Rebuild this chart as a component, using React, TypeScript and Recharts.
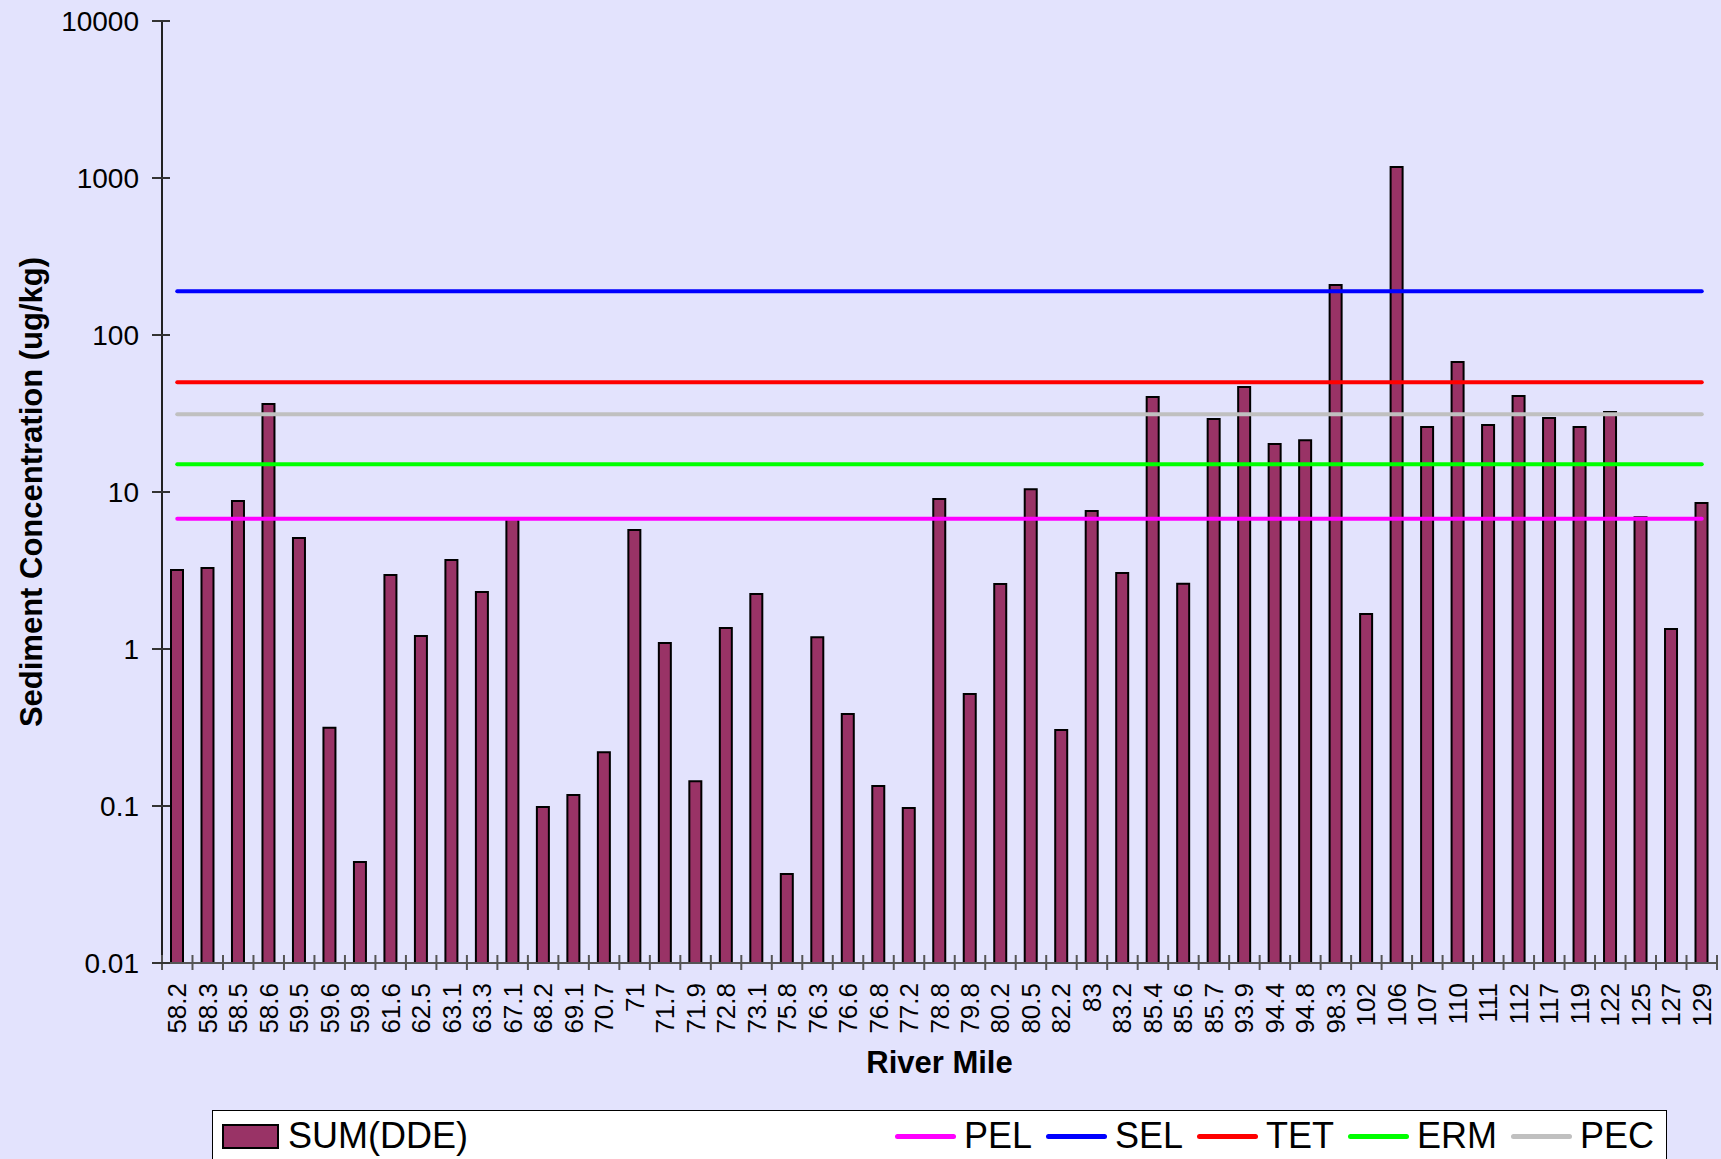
import { ComposedChart, Bar, Line, XAxis, YAxis, Legend, Label } from "recharts";

const RIVER_MILES = [
  "58.2", "58.3", "58.5", "58.6", "59.5", "59.6", "59.8", "61.6", "62.5", "63.1",
  "63.3", "67.1", "68.2", "69.1", "70.7", "71", "71.7", "71.9", "72.8", "73.1",
  "75.8", "76.3", "76.6", "76.8", "77.2", "78.8", "79.8", "80.2", "80.5", "82.2",
  "83", "83.2", "85.4", "85.6", "85.7", "93.9", "94.4", "94.8", "98.3", "102",
  "106", "107", "110", "111", "112", "117", "119", "122", "125", "127", "129",
];

const SUM_DDE = [
  3.18, 3.28, 8.77, 36.4, 5.1, 0.315, 0.044, 2.96, 1.21, 3.69,
  2.31, 6.73, 0.0986, 0.1175, 0.22, 5.73, 1.09, 0.144, 1.36, 2.24,
  0.0369, 1.19, 0.386, 0.134, 0.097, 9.02, 0.517, 2.59, 10.4, 0.305,
  7.57, 3.05, 40.3, 2.6, 29.2, 46.7, 20.2, 21.4, 208, 1.67,
  1175, 25.9, 67.3, 26.7, 40.9, 29.6, 25.9, 32.3, 6.9, 1.34, 8.5,
];

const GUIDE_NAMES = ["PEL", "SEL", "TET", "ERM", "PEC"];
const GUIDE_VALUES = [6.75, 190, 50, 15, 31.3];

const Y_TICKS = [0.01, 0.1, 1, 10, 100, 1000, 10000];

const GUIDE_COLORS: Record<string, string> = {
  PEL: "#FF00FF",
  SEL: "#0000FF",
  TET: "#FF0000",
  ERM: "#00FF00",
  PEC: "#C0C0C0",
};

const BAR_COLOR = "#993366";
const BG = "#E3E3FD";
const FONT = '"Liberation Sans", Arial, sans-serif';

const W = 1721;
const H = 1159;
const MARGIN = { top: 21, right: 4, left: 0, bottom: 0 };
const Y_AXIS_W = 162;
const X_AXIS_H = 196;
const STEP = (W - MARGIN.left - MARGIN.right - Y_AXIS_W) / RIVER_MILES.length;

const data = RIVER_MILES.map((mile, i) => {
  const row: Record<string, string | number> = { mile, dde: SUM_DDE[i] };
  GUIDE_NAMES.forEach((name, j) => {
    row[name] = GUIDE_VALUES[j];
  });
  return row;
});

function XTick(props: any) {
  const { x, y, payload, index } = props;
  const ty = y + 20;
  const last = index === RIVER_MILES.length - 1;
  return (
    <g>
      <line x1={x - STEP / 2} x2={x - STEP / 2} y1={y - 8} y2={y + 7} stroke="#555" strokeWidth={2} />
      {last && (
        <line x1={x + STEP / 2} x2={x + STEP / 2} y1={y - 8} y2={y + 7} stroke="#555" strokeWidth={2} />
      )}
      <text
        x={x}
        y={ty}
        transform={`rotate(-90 ${x} ${ty})`}
        textAnchor="end"
        dominantBaseline="central"
        fontSize={26}
        fontFamily={FONT}
        fill="#000"
      >
        {payload.value}
      </text>
    </g>
  );
}

function YTick(props: any) {
  const { x, y, payload } = props;
  return (
    <g>
      <line x1={x - 10} x2={x + 8} y1={y} y2={y} stroke="#333" strokeWidth={2} />
      <text
        x={x - 23}
        y={y}
        textAnchor="end"
        dominantBaseline="central"
        fontSize={28}
        fontFamily={FONT}
        fill="#000"
      >
        {payload.value}
      </text>
    </g>
  );
}

function YTitle(props: any) {
  const { x, y, height } = props.viewBox;
  const cx = x + 31;
  const cy = y + height / 2;
  return (
    <text
      x={cx}
      y={cy}
      transform={`rotate(-90 ${cx} ${cy})`}
      textAnchor="middle"
      dominantBaseline="central"
      fontSize={31}
      fontWeight="bold"
      fontFamily={FONT}
      fill="#000"
    >
      Sediment Concentration (ug/kg)
    </text>
  );
}

function XTitle(props: any) {
  const { x, y, width } = props.viewBox;
  return (
    <text
      x={x + width / 2}
      y={y + 99}
      textAnchor="middle"
      dominantBaseline="central"
      fontSize={31}
      fontWeight="bold"
      fontFamily={FONT}
      fill="#000"
    >
      River Mile
    </text>
  );
}

function LegendBox() {
  return (
    <div
      style={{
        boxSizing: "border-box",
        height: 70,
        background: "#fff",
        border: "1px solid #000",
        display: "flex",
        alignItems: "flex-start",
        justifyContent: "space-between",
        padding: "7px 12px 0 9px",
        fontFamily: FONT,
        fontSize: 36,
        lineHeight: "36px",
        color: "#000",
      }}
    >
      <div style={{ display: "flex", alignItems: "center" }}>
        <span
          style={{
            boxSizing: "border-box",
            width: 57,
            height: 25,
            background: BAR_COLOR,
            border: "2px solid #000",
            marginRight: 9,
          }}
        />
        <span>SUM(DDE)</span>
      </div>
      <div style={{ display: "flex", alignItems: "center" }}>
        {GUIDE_NAMES.map((name, i) => (
          <div key={name} style={{ display: "flex", alignItems: "center", marginLeft: i === 0 ? 0 : 14 }}>
            <span
              style={{
                width: 61,
                height: 5,
                borderRadius: 3,
                background: GUIDE_COLORS[name],
                marginRight: 8,
              }}
            />
            <span>{name}</span>
          </div>
        ))}
      </div>
    </div>
  );
}

export default function App() {
  return (
    <div
      style={{
        position: "absolute",
        left: 0,
        top: 0,
        width: W,
        height: H,
        overflow: "hidden",
        background: BG,
      }}
    >
      <ComposedChart width={W} height={H} data={data} margin={MARGIN}>
        <XAxis
          dataKey="mile"
          interval={0}
          height={X_AXIS_H}
          tickSize={0}
          tickMargin={0}
          tickLine={false}
          axisLine={{ stroke: "#555", strokeWidth: 2 }}
          tick={<XTick />}
        >
          <Label content={<XTitle />} />
        </XAxis>
        <XAxis
          xAxisId="top"
          orientation="top"
          dataKey="mile"
          height={0}
          tick={false}
          tickLine={false}
          axisLine={{ stroke: "#888", strokeWidth: 2 }}
        />
        <YAxis
          type="number"
          scale="log"
          domain={[0.01, 10000]}
          ticks={Y_TICKS}
          allowDataOverflow
          width={Y_AXIS_W}
          tickSize={0}
          tickMargin={0}
          tickLine={false}
          axisLine={{ stroke: "#222", strokeWidth: 2 }}
          tick={<YTick />}
        >
          <Label content={<YTitle />} />
        </YAxis>
        <YAxis
          yAxisId="right"
          orientation="right"
          type="number"
          domain={[0, 1]}
          width={0}
          tick={false}
          tickLine={false}
          axisLine={{ stroke: "#888", strokeWidth: 2 }}
        />
        <Bar
          dataKey="dde"
          name="SUM(DDE)"
          fill={BAR_COLOR}
          stroke="#000"
          strokeWidth={2}
          barSize={12}
          isAnimationActive={false}
        />
        {GUIDE_NAMES.map((name) => (
          <Line
            key={name}
            type="linear"
            dataKey={name}
            name={name}
            stroke={GUIDE_COLORS[name]}
            strokeWidth={4}
            strokeLinecap="round"
            dot={false}
            activeDot={false}
            isAnimationActive={false}
          />
        ))}
        <Legend
          layout="vertical"
          align="center"
          verticalAlign="middle"
          wrapperStyle={{ left: 212, top: 1110, width: 1455 }}
          content={() => <LegendBox />}
        />
      </ComposedChart>
    </div>
  );
}
